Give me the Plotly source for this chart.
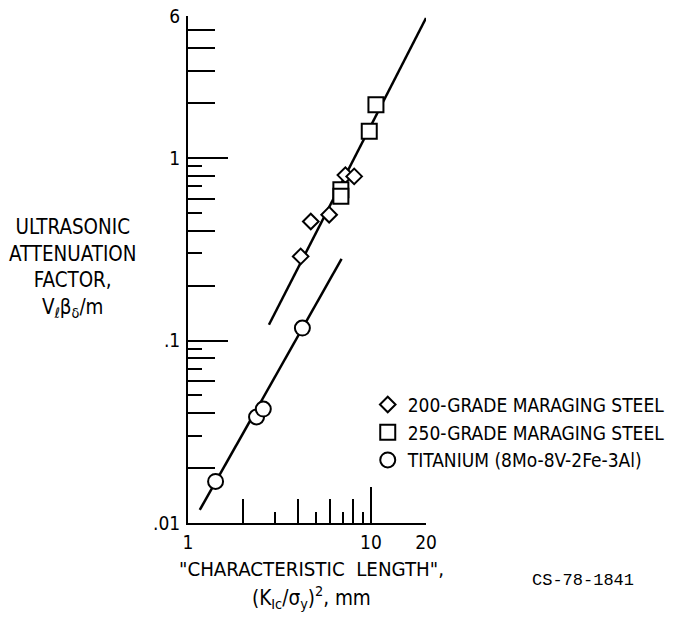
import math
import plotly.graph_objects as go

# Measured points (log-log): characteristic length (mm) vs attenuation factor
steel200_x = [4.13, 4.69, 5.91, 7.25, 8.10]
steel200_y = [0.289, 0.449, 0.489, 0.806, 0.793]

steel250_x = [6.85, 6.85, 9.79, 10.65]
steel250_y = [0.671, 0.618, 1.40, 1.96]

titanium_x = [1.415, 2.37, 2.58, 4.22]
titanium_y = [0.0169, 0.0381, 0.0421, 0.117]

# Fitted trend lines (end points)
steel_fit_x = [2.77, 20.0]
steel_fit_y = [0.122, 5.85]
titanium_fit_x = [1.16, 6.91]
titanium_fit_y = [0.0118, 0.280]

# Axis ranges and tick marks
x_min, x_max = 1, 20
y_min, y_max = 0.01, 6
x_label_vals = [1, 10, 20]
x_label_text = ["1", "10", "20"]
y_label_vals = [0.01, 0.1, 1, 6]
y_label_text = [".01", ".1", "1", "6"]
x_ticks_long = [10]
x_ticks_mid = [2, 4, 6, 8, 20]
x_ticks_short = [3, 5, 7, 9]
y_ticks_long = [0.1, 1]
y_ticks_mid = [0.02, 0.04, 0.06, 0.08, 0.2, 0.4, 0.6, 0.8, 2, 3, 4, 5, 6]
y_ticks_short = [0.03, 0.05, 0.07, 0.09, 0.3, 0.5, 0.7, 0.9]

xr = [math.log10(x_min), math.log10(x_max)]
yr = [math.log10(y_min), math.log10(y_max)]

FONT = "Liberation Sans Narrow, Arial Narrow, DejaVu Sans Condensed, sans-serif"
INK = "black"

fig = go.Figure()

fig.add_trace(go.Scatter(x=steel_fit_x, y=steel_fit_y, mode="lines",
                         line=dict(color=INK, width=2.5), showlegend=False, hoverinfo="skip"))
fig.add_trace(go.Scatter(x=titanium_fit_x, y=titanium_fit_y, mode="lines",
                         line=dict(color=INK, width=2.5), showlegend=False, hoverinfo="skip"))

series = [
    (steel200_x, steel200_y, "200-GRADE MARAGING STEEL", "diamond", 12),
    (steel250_x, steel250_y, "250-GRADE MARAGING STEEL", "square", 15),
    (titanium_x, titanium_y, "TITANIUM (8Mo-8V-2Fe-3Al)", "circle", 15),
]
for sx, sy, name, sym, size in series:
    fig.add_trace(go.Scatter(x=sx, y=sy, mode="markers", name=name,
                             marker=dict(symbol=sym, size=size, color="white",
                                         line=dict(color=INK, width=2))))

# Empty traces that carry the extra tick-mark axes
for k in (2, 3, 4):
    fig.add_trace(go.Scatter(x=[], y=[], xaxis=f"x{k}", yaxis=f"y{k}",
                             showlegend=False, hoverinfo="skip"))

base = dict(type="log", showgrid=False, zeroline=False)

fig.update_layout(
    width=676, height=619,
    margin=dict(l=188, r=250, t=16, b=96, autoexpand=False),
    paper_bgcolor="white", plot_bgcolor="white",
    font=dict(family=FONT, color=INK, size=18),
    xaxis=dict(**base, range=xr, tickvals=x_label_vals, ticktext=x_label_text,
               ticks="", showline=True, linecolor=INK, linewidth=2,
               tickfont=dict(size=19), ticklabelstandoff=1),
    yaxis=dict(**base, range=yr, tickvals=y_label_vals, ticktext=y_label_text,
               ticks="", showline=True, linecolor=INK, linewidth=2,
               tickfont=dict(size=19), ticklabelstandoff=2),
    legend=dict(xref="container", yref="container", x=0.544, y=0.377,
                xanchor="left", yanchor="top",
                font=dict(size=19, family=FONT), bgcolor="rgba(0,0,0,0)",
                itemsizing="trace"),
    showlegend=True,
)

tick_sets_x = [(x_ticks_long, 36), (x_ticks_mid, 24), (x_ticks_short, 11)]
tick_sets_y = [(y_ticks_long, 40), (y_ticks_mid, 27), (y_ticks_short, 14)]
for k, ((xv, xl), (yv, yl)) in enumerate(zip(tick_sets_x, tick_sets_y), start=2):
    fig.update_layout(**{
        f"xaxis{k}": dict(**base, range=xr, overlaying="x", anchor=f"y{k}",
                          tickvals=xv, ticks="inside", ticklen=xl, tickwidth=2,
                          tickcolor=INK, showticklabels=False, showline=False),
        f"yaxis{k}": dict(**base, range=yr, overlaying="y", anchor=f"x{k}",
                          tickvals=yv, ticks="inside", ticklen=yl, tickwidth=2,
                          tickcolor=INK, showticklabels=False, showline=False),
    })

fig.add_annotation(xref="paper", yref="paper", x=-0.487, y=0.503,
                   xanchor="center", yanchor="middle", showarrow=False, align="center",
                   text="ULTRASONIC<br>ATTENUATION<br>FACTOR,<br>V<sub>ℓ</sub>β<sub>δ</sub>/m",
                   font=dict(size=20.4, family=FONT))
fig.add_annotation(xref="paper", yref="paper", x=0.519, y=-0.090,
                   xanchor="center", yanchor="middle", showarrow=False,
                   text="\"CHARACTERISTIC\u00a0\u00a0LENGTH\",",
                   font=dict(size=20.3, family=FONT))
fig.add_annotation(xref="paper", yref="paper", x=0.519, y=-0.147,
                   xanchor="center", yanchor="middle", showarrow=False,
                   text="(K<sub>Ic</sub>/σ<sub>y</sub>)<sup>2</sup>, mm",
                   font=dict(size=20.5, family=FONT))
fig.add_annotation(xref="paper", yref="paper", x=1.66, y=-0.114,
                   xanchor="center", yanchor="middle", showarrow=False,
                   text="CS-78-1841",
                   font=dict(size=17, family="Liberation Mono, DejaVu Sans Mono, monospace"))

fig.write_html("out.html")
